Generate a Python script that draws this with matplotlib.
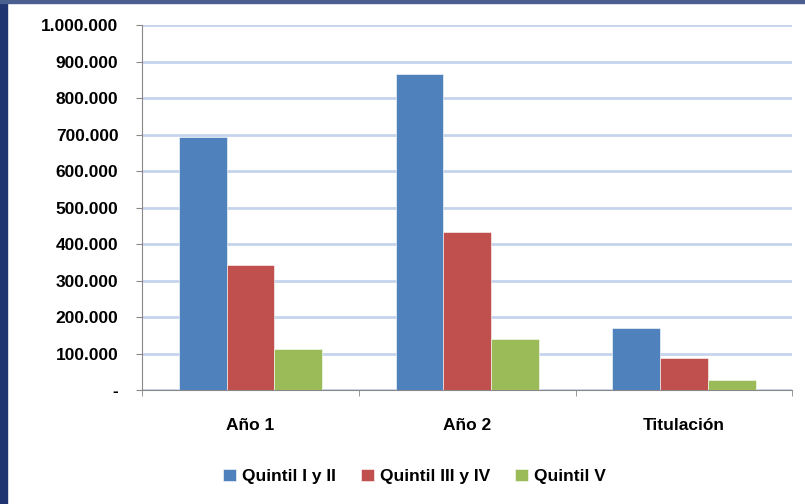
import numpy as np
import matplotlib.pyplot as plt
from matplotlib.patches import Rectangle
from matplotlib.ticker import FuncFormatter

plt.rcParams['font.family'] = ['Liberation Sans', 'DejaVu Sans']

categorias = ['Año 1', 'Año 2', 'Titulación']
series = ['Quintil I y II', 'Quintil III y IV', 'Quintil V']
q12 = [693000, 866000, 170000]
q34 = [342000, 433000, 88000]
q5 = [112000, 140000, 27000]
colores = ['#4f81bd', '#c0504d', '#9bbb59']

fig = plt.figure(figsize=(8.05, 5.04), dpi=100)
# marco oscuro a la izquierda y arriba
fig.patches.append(Rectangle((0, 0), 0.009, 1, transform=fig.transFigure, color='#1f3470', zorder=0))
fig.patches.append(Rectangle((0, 0.994), 1, 0.006, transform=fig.transFigure, color='#4a5f8f', zorder=0))

ax = fig.add_axes([0.1764, 0.226, 0.808, 0.724])
x = np.arange(len(categorias))
w = 0.22
for i, (vals, nom) in enumerate(zip([q12, q34, q5], series)):
    ax.bar(x + (i - 1) * w, vals, w, color=colores[i], label=nom, zorder=3,
           edgecolor='white', linewidth=0.4)

ax.set_xlim(-0.5, 2.5)
ax.set_ylim(0, 1000000)
ax.set_yticks(np.arange(0, 1000001, 100000))
ax.yaxis.set_major_formatter(FuncFormatter(
    lambda v, p: '-' if v == 0 else f'{int(v):,}'.replace(',', '.')))
ax.grid(axis='y', color='#c6d4ec', linewidth=2, zorder=0)
ax.set_xticks(x)
ax.set_xticklabels(categorias)
ax.set_xticks([-0.5, 0.5, 1.5, 2.5], minor=True)
ax.tick_params(axis='x', which='major', length=0, pad=20)
ax.tick_params(axis='x', which='minor', length=4, color='#888888')
ax.tick_params(axis='y', length=4, color='#888888', pad=13)
for lab in ax.get_xticklabels() + ax.get_yticklabels():
    lab.set_fontweight('bold')
    lab.set_fontsize(12.5)
for s in ['top', 'right']:
    ax.spines[s].set_visible(False)
for s in ['left', 'bottom']:
    ax.spines[s].set_color('#888888')

leg = fig.legend(loc='center', bbox_to_anchor=(0.515, 0.055), ncol=3, frameon=False,
                 prop={'weight': 'bold', 'size': 12.5}, handlelength=0.75, handleheight=0.75,
                 handletextpad=0.35, columnspacing=1.43)

fig.savefig('out.png', dpi=100)
